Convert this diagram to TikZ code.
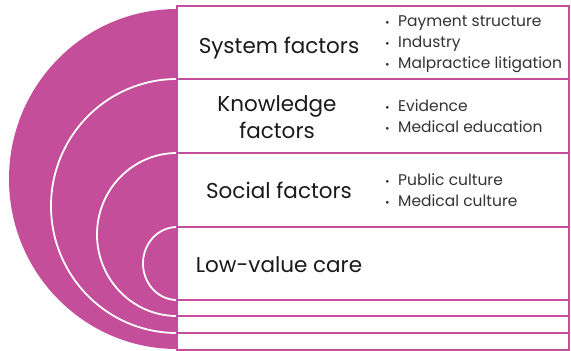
\documentclass[tikz,border=0pt]{standalone}
\usepackage{fontspec}
\setmainfont{Poppins}
\definecolor{plum}{HTML}{C44E9A}
\definecolor{ink}{HTML}{1A1A1A}
\definecolor{inkgray}{HTML}{333333}
\begin{document}
\begin{tikzpicture}[x=1pt,y=-1pt,
  band/.style={draw=plum, line width=1.8pt, fill=white, minimum width=392pt,
    inner sep=0pt, outer sep=0pt, anchor=north west},
  ring/.style={draw=white, line width=1.8pt},
  title/.style={font=\fontsize{21.5}{26.5}\selectfont, text=ink, align=center, inner sep=0pt},
  items/.style={font=\fontsize{15.5}{21}\selectfont, text=inkgray, align=left,
    inner sep=0pt, anchor=north west}
]
\useasboundingbox (0,0) rectangle (571,351);

% magenta half disc with concentric white rings
\fill[plum] (177,179) ++(0,170) arc[start angle=90, end angle=270, x radius=168, y radius=170] -- cycle;
\draw[ring] (177,206) ++(0,127) arc[start angle=90, end angle=270, x radius=126, y radius=127];
\draw[ring] (177,234.5) ++(0,81.5) arc[start angle=90, end angle=270, x radius=80, y radius=81.5];
\draw[ring] (177,263.5) ++(0,36.5) arc[start angle=90, end angle=270, x radius=34, y radius=36.5];

% stacked bands
\node[band, minimum height=73pt] (system) at (177,6) {};
\node[band, minimum height=74pt] (knowledge) at (177,79) {};
\node[band, minimum height=74pt] (social) at (177,153) {};
\node[band, minimum height=73pt] (lowvalue) at (177,227) {};
\node[band, minimum height=16pt] (stripA) at (177,300) {};
\node[band, minimum height=17pt] (stripB) at (177,316) {};
\node[band, minimum height=17pt] (stripC) at (177,333) {};

% band titles
\node[title, anchor=base] (tsystem) at (279,53.5) {System factors};
\node[title, anchor=base] (tknowledge) at (277,138) {Knowledge\\factors};
\node[title, anchor=base] (tsocial) at (279,198) {Social factors};
\node[title, anchor=base] (tlowvalue) at (279,272) {Low-value care};

% factor lists
\newcommand{\itemdot}{{\fontsize{11}{11}\selectfont\textbullet}\hspace{8.5pt}}
\node[items] (lsystem) at (385,15.5) {\itemdot Payment structure\\\itemdot Industry\\\itemdot Malpractice litigation};
\node[items] (lknowledge) at (385,100) {\itemdot Evidence\\\itemdot Medical education};
\node[items] (lsocial) at (385,173.5) {\itemdot Public culture\\\itemdot Medical culture};
\end{tikzpicture}
\end{document}
